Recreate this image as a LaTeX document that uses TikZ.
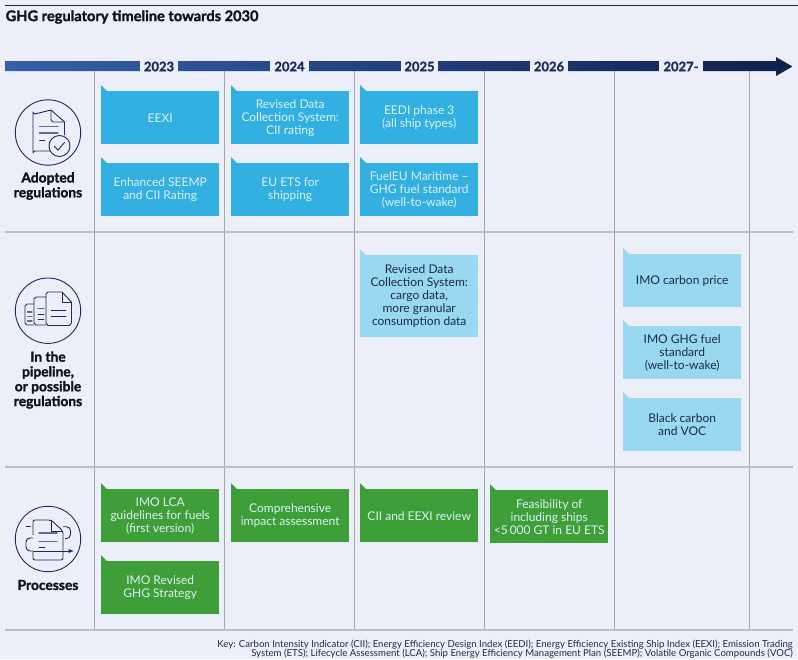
\documentclass[tikz,border=0pt]{standalone}
\usepackage{fontspec}
\setmainfont[BoldFeatures={FakeBold=1.4}]{Lato}
\definecolor{bg}{HTML}{ECEEFA}
\definecolor{navy}{HTML}{1B2B5A}
\definecolor{ink}{HTML}{101020}
\definecolor{bluebox}{HTML}{32B0E2}
\definecolor{lightbox}{HTML}{98D8F1}
\definecolor{greenbox}{HTML}{3E9E38}
\definecolor{vline}{HTML}{A3A4AC}
\definecolor{hline}{HTML}{BDBECB}
\definecolor{lighttext}{HTML}{DDF1F8}
\definecolor{darktext}{HTML}{1D2A48}
\tikzset{
  boxbase/.style={anchor=north west,minimum width=118pt,inner sep=0pt,align=center,
    font=\fontsize{12}{13}\selectfont},
  adopted/.style={boxbase,fill=bluebox,text=lighttext},
  pipe/.style={boxbase,fill=lightbox,text=darktext},
  proc/.style={boxbase,fill=greenbox,text=lighttext},
  yearlabel/.style={fill=bg,inner sep=0pt,minimum height=12pt,text=navy,
    font=\fontsize{13}{14}\selectfont\bfseries},
  rowlabel/.style={text=ink,align=center,inner sep=0pt,
    font=\fontsize{13.8}{14.8}\selectfont\bfseries},
  icon/.style={draw=navy,line width=0.9pt,line join=round},
  iconthin/.style={draw=navy,line width=0.9pt,line cap=round},
  iconlight/.style={draw=navy!70,line width=1.2pt,line cap=round},
  grid v/.style={draw=vline,line width=0.9pt},
  grid h/.style={draw=hline,line width=1.2pt}
}
% name, x, y, height, style, text
\newcommand{\tabbox}[6]{%
  \fill[#5 tab] (#2,#3-6) -- (#2,#3+1) -- (#2+7,#3+1) -- cycle;
  \node[#5,minimum height=#4pt] (#1) at (#2,#3) {#6};
}
\tikzset{adopted tab/.style={fill=bluebox},pipe tab/.style={fill=lightbox},proc tab/.style={fill=greenbox}}
\begin{document}
\begin{tikzpicture}[x=1pt,y=-1pt]
\useasboundingbox (0,0) rectangle (798,659);
\fill[bg] (0,0) rectangle (798,659);
% top rule and title
\draw[draw=navy!80!black,line width=1pt] (5,5.5) -- (798,5.5);
\node[anchor=west,inner sep=0pt,text=ink,font=\fontsize{14.6}{16}\selectfont\bfseries] (title) at (5.5,17) {GHG regulatory timeline towards 2030};
% grid
\foreach \x in {94.5,224.5,354.5,484.5,614.5,749.5} \draw[grid v] (\x,71) -- (\x,630);
\foreach \y in {232,467,630} \draw[grid h] (5,\y) -- (793,\y);
% timeline arrow
\shade[left color={rgb,255:red,53;green,96;blue,168},right color={rgb,255:red,15;green,32;blue,78}]
  (5,61) -- (776,61) -- (776,57) -- (792.5,66.5) -- (776,76) -- (776,71) -- (5,71) -- cycle;
\node[yearlabel,minimum width=38pt] (y23) at (159,66.5) {2023};
\node[yearlabel,minimum width=39pt] (y24) at (289.5,66.5) {2024};
\node[yearlabel,minimum width=37pt] (y25) at (419.5,66.5) {2025};
\node[yearlabel,minimum width=38pt] (y26) at (549,66.5) {2026};
\node[yearlabel,minimum width=44pt] (y27) at (681,66.5) {2027-};
% adopted
\tabbox{a1}{101}{91}{53}{adopted}{EEXI}
\tabbox{a2}{101}{163}{53}{adopted}{Enhanced SEEMP\\and CII Rating}
\tabbox{a3}{231}{91}{53}{adopted}{Revised Data\\Collection System:\\CII rating}
\tabbox{a4}{231}{163}{53}{adopted}{EU ETS for\\shipping}
\tabbox{a5}{360}{91}{53}{adopted}{EEDI phase 3\\(all ship types)}
\tabbox{a6}{360}{163}{53}{adopted}{FuelEU Maritime –\\GHG fuel standard\\(well-to-wake)}
% pipeline
\tabbox{p1}{360}{255}{82}{pipe}{Revised Data\\Collection System:\\cargo data,\\more granular\\consumption data}
\tabbox{p2}{623}{254}{53}{pipe}{IMO carbon price}
\tabbox{p3}{623}{326}{53}{pipe}{IMO GHG fuel\\standard\\(well-to-wake)}
\tabbox{p4}{623}{398}{53}{pipe}{Black carbon\\and VOC}
% processes
\tabbox{g1}{101}{489}{53}{proc}{IMO LCA\\guidelines for fuels\\(first version)}
\tabbox{g2}{101}{561}{53}{proc}{IMO Revised\\GHG Strategy}
\tabbox{g3}{231}{489}{53}{proc}{Comprehensive\\impact assessment}
\tabbox{g4}{360}{489}{53}{proc}{CII and EEXI review}
\tabbox{g5}{490}{490}{53}{proc}{Feasibility of\\including ships\\<5\,000 GT in EU ETS}
% row labels
\node[rowlabel] (l1) at (48,186) {Adopted\\regulations};
\node[rowlabel] (l2) at (48,380) {In the\\pipeline,\\or possible\\regulations};
\node[rowlabel] (l3) at (48,585) {Processes};
% icon 1
\draw[icon] (48,132.5) circle (32.7);
\draw[icon] (50,151) -- (35,151) arc[start angle=90,end angle=180,radius=2,y radius=-2] -- (33,112) arc[start angle=180,end angle=270,radius=2,y radius=-2] -- (51,110) -- (64.5,122) -- (64.5,135);
\draw[icon] (51,110) -- (51,120) -- (53,122) -- (64.5,122);
\draw[iconlight] (39.5,126.5) -- (58,126.5) (39.5,133) -- (58,133);
\draw[iconthin] (39.5,140) -- (45,140);
\draw[icon,fill=bg] (59.5,146) circle (10.5);
\draw[iconthin] (54.5,146.5) -- (58,150) -- (64.5,142.5);
% icon 2
\draw[icon] (48,310.7) circle (32.7);
\draw[icon] (34,304) -- (27,304) -- (25,306) -- (25,323) -- (27,325) -- (34,325);
\draw[icon] (46,297) -- (36,297) -- (34,299) -- (34,323) -- (36,325) -- (46,325);
\draw[icon] (48,292) -- (62,292) -- (71.5,302) -- (71.5,323) -- (69.5,325.5) -- (48,325.5) -- (46,323) -- (46,294) -- cycle;
\draw[icon] (62,292) -- (62,302) -- (71.5,302);
\draw[iconthin] (51,310) -- (66,310) (51,316) -- (66,316);
\draw[iconlight] (38,308.5) -- (44,308.5);
\draw[iconthin] (38,314) -- (44,314) (38,319) -- (44,319);
\draw[iconlight] (27.5,312) -- (32,312) (27.5,316.5) -- (32,316.5) (27.5,321) -- (32,321);
% icon 3
\draw[icon] (48,539) circle (32.7);
\draw[icon,rounded corners=2pt] (33,535) -- (33,520) -- (51,520) -- (63,531) -- (63,560) -- (33,560) -- (33,552);
\draw[icon] (51,520) -- (51,531) -- (63,531);
\draw[iconlight] (39,533) -- (57,533) (39,541.5) -- (57,541.5);
\draw[iconthin] (39,547.5) -- (45,547.5) (26,526.7) -- (30.5,526.7);
\draw[icon,rounded corners=4pt] (33,538) -- (26,538) -- (26,551) -- (33,551);
\draw[icon,-{latex}] (33,551) -- (74,551);
\draw[icon,rounded corners=4pt] (63,526.7) -- (70.5,526.7) -- (70.5,538.5) -- (65,538.5);
% key
\node[anchor=east,inner sep=0pt,text=darktext,font=\fontsize{9.6}{11}\selectfont] (k1) at (793,644.5) {Key: Carbon Intensity Indicator (CII); Energy Efficiency Design Index (EEDI); Energy Efficiency Existing Ship Index (EEXI); Emission Trading};
\node[anchor=east,inner sep=0pt,text=darktext,font=\fontsize{9.6}{11}\selectfont] (k2) at (793,654) {System (ETS); Lifecycle Assessment (LCA); Ship Energy Efficiency Management Plan (SEEMP); Volatile Organic Compounds (VOC)};
\end{tikzpicture}
\end{document}
